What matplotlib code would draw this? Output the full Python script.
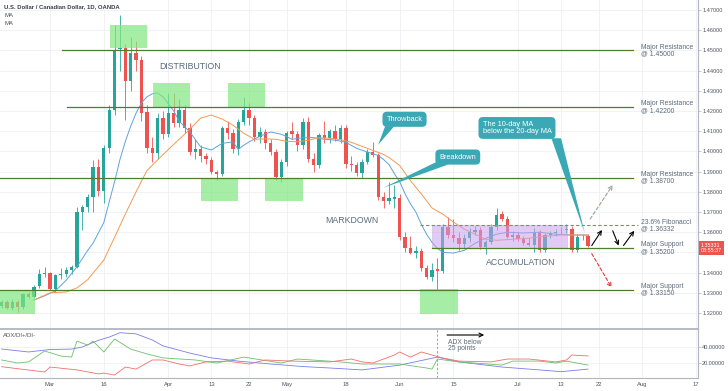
import matplotlib
matplotlib.use("Agg")
import matplotlib.pyplot as plt
from matplotlib.patches import Rectangle, Polygon
from matplotlib.transforms import blended_transform_factory
import numpy as np

plt.rcParams['font.family'] = ['Liberation Sans', 'DejaVu Sans']

# bar index 0 = 2 Mar 2020, one step per trading day; first bar is 18 Feb
first_bar = -9

opens = [
    1.3236, 1.3256, 1.3223, 1.3256, 1.3229, 1.3293, 1.3280, 1.3333, 1.3393, 1.3396,
    1.3321, 1.3388, 1.3391, 1.3413, 1.3428, 1.3701, 1.3726, 1.3776, 1.3924, 1.3805,
    1.4015, 1.4205, 1.4505, 1.4512, 1.4349, 1.4485, 1.4453, 1.4195, 1.4017, 1.3992,
    1.4165, 1.4086, 1.4190, 1.4141, 1.4205, 1.4115, 1.3997, 1.4010, 1.3976, 1.3957,
    1.3900, 1.3886, 1.4116, 1.4090, 1.4010, 1.4145, 1.4205, 1.4165, 1.4071, 1.4096,
    1.4042, 1.3997, 1.3873, 1.3948, 1.4100, 1.4085, 1.4030, 1.4147, 1.3960, 1.3932,
    1.4080, 1.4065, 1.4100, 1.4060, 1.4115, 1.3940, 1.3935, 1.3895, 1.3950, 1.3999,
    1.3982, 1.3776, 1.3752, 1.3765, 1.3771, 1.3578, 1.3522, 1.3497, 1.3505, 1.3421,
    1.3380, 1.3420, 1.3410, 1.3627, 1.3586, 1.3569, 1.3541, 1.3569, 1.3602, 1.3612,
    1.3527, 1.3553, 1.3627, 1.3690, 1.3665, 1.3578, 1.3586, 1.3565, 1.3545, 1.3537,
    1.3603, 1.3512, 1.3586, 1.3594, 1.3609, 1.3611, 1.3615, 1.3512, 1.3576, 1.3580,
]
highs = [
    1.3265, 1.3262, 1.3268, 1.3262, 1.3300, 1.3305, 1.3340, 1.3420, 1.3430, 1.3405,
    1.3395, 1.3425, 1.3430, 1.3440, 1.3725, 1.3735, 1.3790, 1.3958, 1.3960, 1.4030,
    1.4230, 1.4626, 1.4675, 1.4530, 1.4566, 1.4545, 1.4470, 1.4230, 1.4070, 1.4190,
    1.4200, 1.4289, 1.4290, 1.4260, 1.4230, 1.4140, 1.4060, 1.4030, 1.3990, 1.3970,
    1.3910, 1.4125, 1.4150, 1.4110, 1.4160, 1.4271, 1.4240, 1.4180, 1.4120, 1.4110,
    1.4060, 1.4010, 1.3960, 1.4100, 1.4147, 1.4100, 1.4165, 1.4170, 1.3990, 1.4090,
    1.4150, 1.4110, 1.4130, 1.4130, 1.4130, 1.3975, 1.3950, 1.3960, 1.4010, 1.4048,
    1.3990, 1.3800, 1.3850, 1.3833, 1.3790, 1.3600, 1.3580, 1.3530, 1.3520, 1.3440,
    1.3450, 1.3470, 1.3640, 1.3677, 1.3665, 1.3600, 1.3590, 1.3620, 1.3630, 1.3625,
    1.3560, 1.3640, 1.3718, 1.3705, 1.3680, 1.3605, 1.3600, 1.3580, 1.3570, 1.3620,
    1.3610, 1.3595, 1.3605, 1.3615, 1.3625, 1.3640, 1.3630, 1.3590, 1.3590, 1.3590,
]
lows = [
    1.3225, 1.3218, 1.3215, 1.3205, 1.3222, 1.3272, 1.3275, 1.3325, 1.3380, 1.3315,
    1.3305, 1.3370, 1.3378, 1.3395, 1.3425, 1.3610, 1.3700, 1.3701, 1.3780, 1.3745,
    1.3990, 1.4180, 1.4400, 1.4155, 1.4300, 1.4400, 1.4150, 1.3990, 1.3949, 1.3960,
    1.4060, 1.4070, 1.4120, 1.4120, 1.4090, 1.3980, 1.3960, 1.3950, 1.3940, 1.3890,
    1.3860, 1.3880, 1.4060, 1.3990, 1.3980, 1.4130, 1.4130, 1.4050, 1.4040, 1.4010,
    1.3980, 1.3860, 1.3850, 1.3930, 1.4060, 1.4000, 1.4010, 1.3950, 1.3900, 1.3920,
    1.4040, 1.4040, 1.4050, 1.4040, 1.3920, 1.3905, 1.3880, 1.3870, 1.3940, 1.3970,
    1.3760, 1.3720, 1.3740, 1.3720, 1.3560, 1.3500, 1.3490, 1.3470, 1.3410, 1.3370,
    1.3360, 1.3315, 1.3400, 1.3570, 1.3550, 1.3510, 1.3520, 1.3550, 1.3585, 1.3515,
    1.3490, 1.3540, 1.3610, 1.3655, 1.3570, 1.3555, 1.3555, 1.3535, 1.3530, 1.3500,
    1.3500, 1.3500, 1.3570, 1.3580, 1.3590, 1.3595, 1.3500, 1.3500, 1.3560, 1.3525,
]
closes = [
    1.3256, 1.3223, 1.3256, 1.3229, 1.3293, 1.3280, 1.3330, 1.3393, 1.3400, 1.3321,
    1.3388, 1.3392, 1.3413, 1.3428, 1.3701, 1.3726, 1.3776, 1.3924, 1.3805, 1.4015,
    1.4205, 1.4500, 1.4512, 1.4349, 1.4485, 1.4453, 1.4190, 1.4017, 1.3990, 1.4165,
    1.4086, 1.4190, 1.4140, 1.4205, 1.4115, 1.3997, 1.4010, 1.3976, 1.3960, 1.3900,
    1.3886, 1.4116, 1.4090, 1.4010, 1.4145, 1.4205, 1.4165, 1.4071, 1.4096, 1.4042,
    1.3997, 1.3873, 1.3948, 1.4091, 1.4085, 1.4030, 1.4147, 1.3960, 1.3932, 1.4080,
    1.4065, 1.4100, 1.4060, 1.4115, 1.3940, 1.3935, 1.3895, 1.3950, 1.3999, 1.3982,
    1.3776, 1.3752, 1.3768, 1.3775, 1.3578, 1.3522, 1.3497, 1.3505, 1.3421, 1.3380,
    1.3413, 1.3410, 1.3627, 1.3586, 1.3569, 1.3541, 1.3569, 1.3602, 1.3612, 1.3527,
    1.3553, 1.3627, 1.3685, 1.3665, 1.3578, 1.3586, 1.3565, 1.3545, 1.3537, 1.3603,
    1.3512, 1.3586, 1.3594, 1.3603, 1.3611, 1.3615, 1.3512, 1.3578, 1.3578, 1.3533,
]

# moving averages at a subset of bars
ma10_idx = [-3, -1, 1, 3, 5, 7, 8, 10, 11, 12, 13, 14, 15, 16, 17, 18, 19, 20, 21, 22,
            23, 24, 26, 28, 30, 32, 34, 35, 36, 37, 39, 41, 43, 45, 47, 49, 51, 53, 55, 57,
            59, 61, 62, 63, 64, 65, 66, 67, 68, 69, 70, 71, 72, 73, 75, 77, 79, 81, 83, 85,
            88, 91, 94, 97, 100]
ma10 = [1.3264, 1.3285, 1.3310, 1.3362, 1.3429, 1.3510, 1.3546, 1.3648, 1.3750, 1.3850,
        1.3960, 1.4050, 1.4125, 1.4190, 1.4240, 1.4270, 1.4285, 1.4289, 1.4270, 1.4235,
        1.4200, 1.4150, 1.4096, 1.4022, 1.4007, 1.4040, 1.4047, 1.4010, 1.4030, 1.4047,
        1.4075, 1.4096, 1.4085, 1.4060, 1.4068, 1.4068, 1.4060, 1.4056, 1.4045, 1.4015,
        1.3997, 1.3980, 1.3960, 1.3935, 1.3890, 1.3850, 1.3790, 1.3740, 1.3700, 1.3640,
        1.3590, 1.3550, 1.3520, 1.3500, 1.3497, 1.3510, 1.3545, 1.3570, 1.3590, 1.3600,
        1.3596, 1.3600, 1.3590, 1.3586, 1.3586]
ma20_idx = [-3, 0, 3, 5, 7, 9, 10, 12, 14, 16, 18, 20, 22, 24, 26, 28, 30, 32, 34, 36,
            38, 40, 42, 44, 46, 48, 50, 52, 54, 56, 58, 60, 62, 63, 65, 67, 69, 71, 73, 75,
            77, 79, 81, 83, 86, 89, 92, 95, 100]
ma20 = [1.3264, 1.3300, 1.3304, 1.3324, 1.3365, 1.3430, 1.3462, 1.3575, 1.3690, 1.3800,
        1.3905, 1.3958, 1.4010, 1.4060, 1.4110, 1.4165, 1.4180, 1.4160, 1.4130, 1.4090,
        1.4060, 1.4062, 1.4060, 1.4050, 1.4048, 1.4055, 1.4068, 1.4065, 1.4058, 1.4045,
        1.4025, 1.4005, 1.3985, 1.3970, 1.3930, 1.3855, 1.3790, 1.3720, 1.3690, 1.3650,
        1.3615, 1.3590, 1.3565, 1.3560, 1.3565, 1.3570, 1.3580, 1.3586, 1.3586]

# ADX / DI+ / DI- panel
adx_idx = [-9, -4, 0, 4, 6, 9, 11, 13, 16, 19, 21, 26, 30, 35, 41, 47, 52, 58, 65, 72,
           76, 84, 91, 95, 100]
adx = [37.1, 33.4, 36.5, 37.0, 39.6, 48.0, 52.0, 57.5, 56.0, 48.4, 41.0, 32.0, 26.0,
       22.0, 18.4, 15.2, 13.4, 11.0, 17.0, 27.0, 21.0, 14.6, 11.0, 8.8, 12.0]
di_plus_idx = [-9, -6, -4, -1, 2, 4, 5, 7, 8, 10, 12, 15, 18, 21, 27, 31, 36, 43, 46, 54,
               58, 65, 70, 71, 72, 76, 84, 86, 91, 94, 96, 100]
di_plus = [23.4, 19.6, 21.0, 34.6, 28.4, 27.0, 47.0, 42.0, 47.0, 33.4, 49.6, 37.0, 31.0,
           26.0, 23.4, 19.6, 27.0, 19.6, 24.6, 21.0, 18.4, 18.4, 13.4, 12.0, 24.6, 21.0,
           17.0, 22.0, 22.0, 19.6, 22.0, 17.0]
di_minus_idx = [-9, -1, 0, 5, 9, 10, 12, 14, 16, 19, 21, 24, 26, 29, 33, 37, 40, 45, 52, 56,
                58, 60, 64, 65, 67, 69, 71, 73, 76, 82, 85, 89, 94, 96, 97, 100]
di_minus = [15.0, 8.4, 14.6, 11.0, 6.0, 7.0, 4.6, 14.6, 12.0, 23.4, 23.4, 18.4, 16.0, 21.0,
            22.0, 18.4, 23.4, 22.0, 21.0, 24.6, 21.0, 19.6, 29.6, 33.4, 27.0, 33.4, 29.6,
            25.9, 22.0, 21.0, 24.6, 24.6, 21.0, 23.4, 29.6, 28.4]

# date axis
tick_idx = [0, 10, 22, 30, 37, 44, 55, 65, 75, 87, 95, 102, 110, 120]
tick_labels = ['Mar', '16', 'Apr', '13', '22', 'May', '18', 'Jun', '15', 'Jul', '13', '22', 'Aug', '17']

# key levels
levels = [1.45, 1.422, 1.387, 1.352, 1.3315]
level_start = [2.2, 3.2, -9.3, 71.0, -9.3]
level_labels = ['Major Resistance\n@ 1.45000', 'Major Resistance\n@ 1.42200',
                'Major Resistance\n@ 1.38700', 'Major Support\n@ 1.35200',
                'Major Support\n@ 1.33150']
fib_level = 1.36332
last_price = 1.35331

# highlighted zones (first bar, last bar, low, high)
green_zones = [(-9.3, -2.8, 1.3195, 1.3314), (11.2, 18.0, 1.4512, 1.4626),
               (19.1, 26.0, 1.4220, 1.4339), (33.1, 40.0, 1.4220, 1.4339),
               (28.1, 34.9, 1.3755, 1.3868), (40.0, 47.0, 1.3755, 1.3868),
               (68.8, 75.8, 1.3195, 1.3319)]

GREEN, RED = '#26a69a', '#ef5350'
TEAL = '#3aa8b5'
LEVEL = '#4e7d2c'
NOTE = '#5b6b7c'

fig = plt.figure(figsize=(7.28, 3.91), dpi=100)
ax = fig.add_axes([0, 1 - 329 / 391, 698 / 728, 329 / 391])
ax2 = fig.add_axes([0, 1 - 378 / 391, 698 / 728, 49 / 391], sharex=ax)

x = np.arange(first_bar, first_bar + len(closes))
o, h, l, c = map(np.array, (opens, highs, lows, closes))
up = c >= o
cols = np.where(up, GREEN, RED)

ax.vlines(x, l, h, colors=cols, lw=0.6, zorder=3)
body_lo = np.minimum(o, c)
body_h = np.maximum(np.abs(c - o), 0.00025)
ax.bar(x, body_h, bottom=body_lo, width=0.62, color=cols, zorder=4, linewidth=0)

ax.plot(ma10_idx, ma10, color='#5fa3d9', lw=0.7, zorder=5)
ax.plot(ma20_idx, ma20, color='#f39a52', lw=0.7, zorder=5)

for x0, x1, lo, hi in green_zones:
    ax.add_patch(Rectangle((x0, lo), x1 - x0, hi - lo, facecolor='#80e880',
                           alpha=0.7, edgecolor='none', zorder=6))
ax.add_patch(Rectangle((71.0, 1.352), 25.1, fib_level - 1.352, facecolor='#c9a0f0',
                       alpha=0.55, edgecolor='#b9a3d9', lw=0.5, zorder=6))

for lev, xs in zip(levels, level_start):
    ax.plot([xs, 108.4], [lev, lev], color=LEVEL, lw=0.9, zorder=7)
ax.plot([68.8, 109.3], [fib_level, fib_level], color='#7d8f6e', lw=0.8,
        ls=(0, (3, 2)), zorder=7)

for lev, txt in zip(levels, level_labels):
    ax.text(109.9, lev, txt, fontsize=4.9, color=NOTE, va='center', ha='left',
            linespacing=0.95, zorder=8)
ax.text(109.9, fib_level, '23.6% Fibonacci\n@ 1.36332', fontsize=4.9, color=NOTE,
        va='center', ha='left', linespacing=0.95, zorder=8)

ax.text(26.1, 1.4418, 'DISTRIBUTION', fontsize=6.3, color=NOTE, ha='center', va='center')
ax.text(56.1, 1.3660, 'MARKDOWN', fontsize=6.3, color=NOTE, ha='center', va='center')
ax.text(87.5, 1.3448, 'ACCUMULATION', fontsize=6.3, color=NOTE, ha='center', va='center')

# callouts
def callout(cx, cy, txt, tip, base):
    ax.add_patch(Polygon([base[0], base[1], tip], closed=True, facecolor=TEAL,
                         edgecolor='none', zorder=9))
    ax.text(cx, cy, txt, fontsize=5.3, color='white', ha='center', va='center',
            multialignment='left', linespacing=0.95, zorder=10,
            bbox=dict(boxstyle='round,pad=0.55,rounding_size=0.6', fc=TEAL, ec='none'))

callout(65.9, 1.4159, 'Throwback', (61.0, 1.4033), [(62.3, 1.4125), (64.0, 1.4125)])
callout(75.8, 1.3972, 'Breakdown', (61.9, 1.3819), [(72.0, 1.3950), (74.0, 1.3935)])
callout(86.8, 1.4116, 'The 10-day MA\nbelow the 20-day MA', (99.4, 1.3596),
        [(93.2, 1.4065), (95.0, 1.4065)])

# scenario arrows
def arrow(p0, p1, color='black', ls='-', lw=0.8):
    ax.annotate('', xy=p1, xytext=p0, zorder=9,
                arrowprops=dict(arrowstyle='->', color=color, lw=lw, ls=ls,
                                mutation_scale=7, shrinkA=0, shrinkB=0))

arrow((100.7, 1.3534), (102.6, 1.3611))
arrow((104.6, 1.3607), (105.7, 1.3534))
arrow((106.6, 1.3534), (108.6, 1.3607))
arrow((100.4, 1.3665), (104.6, 1.3834), color='#98a594', ls=(0, (3, 2)))
arrow((100.7, 1.3494), (104.4, 1.3326), color='#e53935', ls=(0, (3, 2)))

# axes styling
ax.set_xlim(-9.3, 120.45)
ax.set_ylim(1.31208, 1.47495)
ax.yaxis.tick_right()
yt = np.arange(1.32, 1.4705, 0.01)
ax.set_yticks(yt)
# the 1.35 label sits under the last-price tag, as on the original
ax.set_yticklabels(['' if abs(v - 1.35) < 1e-6 else '%.5f' % v for v in yt])
ax.tick_params(axis='y', labelsize=4, labelcolor='#50535e', color='#b2b5be',
               length=2, width=0.5, pad=1)
ax.set_xticks(tick_idx)
ax.tick_params(axis='x', length=0, labelbottom=False)
ax.grid(True, color='#eef0f4', lw=0.6, zorder=0)
ax.set_axisbelow(True)
for s in ['top', 'left', 'bottom']:
    ax.spines[s].set_visible(False)
ax.spines['right'].set_color('#b2b5be')
ax.spines['right'].set_linewidth(0.8)

tr = blended_transform_factory(ax.transAxes, ax.transData)
ax.text(1.004, 1.3549, '1.35331\n03:55:37', transform=tr, fontsize=3.9, color='white',
        ha='left', va='top', linespacing=1.05, clip_on=False,
        bbox=dict(boxstyle='square,pad=0.35', fc=RED, ec='none'))

ax.text(0.006, 0.979, 'U.S. Dollar / Canadian Dollar, 1D, OANDA', transform=ax.transAxes,
        fontsize=4.3, color='#3a3e4a', fontweight='bold', va='center')
ax.text(0.006, 0.954, 'MA', transform=ax.transAxes, fontsize=4.3, color='#50535e', va='center')
ax.text(0.006, 0.930, 'MA', transform=ax.transAxes, fontsize=4.3, color='#50535e', va='center')

# indicator panel
ax2.plot(adx_idx, adx, color='#7b7bef', lw=0.6)
ax2.plot(di_plus_idx, di_plus, color='#6cbf6c', lw=0.6)
ax2.plot(di_minus_idx, di_minus, color='#f46e6e', lw=0.6)
ax2.axvline(71.9, color='#9a86d8', lw=0.6, ls=(0, (3, 2)))
ax2.set_ylim(0.9, 62.1)
ax2.yaxis.tick_right()
ax2.set_yticks([20, 40])
ax2.set_yticklabels(['20.00000', '40.00000'])
ax2.tick_params(axis='y', labelsize=4, labelcolor='#50535e', color='#b2b5be',
                length=2, width=0.5, pad=1)
ax2.set_xticks(tick_idx)
ax2.set_xticklabels(tick_labels)
ax2.tick_params(axis='x', length=0, labelsize=4.2, labelcolor='#50535e', pad=3)
ax2.grid(True, color='#eef0f4', lw=0.6)
ax2.set_axisbelow(True)
ax2.spines['left'].set_visible(False)
for s in ['top', 'bottom', 'right']:
    ax2.spines[s].set_color('#b2b5be')
ax2.spines['top'].set_linewidth(1.3)
ax2.spines['bottom'].set_linewidth(0.8)
ax2.spines['right'].set_linewidth(0.8)
ax2.text(-8.7, 53.4, 'ADX/DI+/DI-', fontsize=4.3, color='#50535e', va='center')
ax2.text(74.0, 50.0, 'ADX below\n25 points', fontsize=4.9, color=NOTE, va='top',
         linespacing=0.95)
ax2.annotate('', xy=(80.7, 54.6), xytext=(73.8, 54.6),
             arrowprops=dict(arrowstyle='->', color='black', lw=0.8, mutation_scale=7,
                             shrinkA=0, shrinkB=0))

fig.savefig('out.png', dpi=100)
